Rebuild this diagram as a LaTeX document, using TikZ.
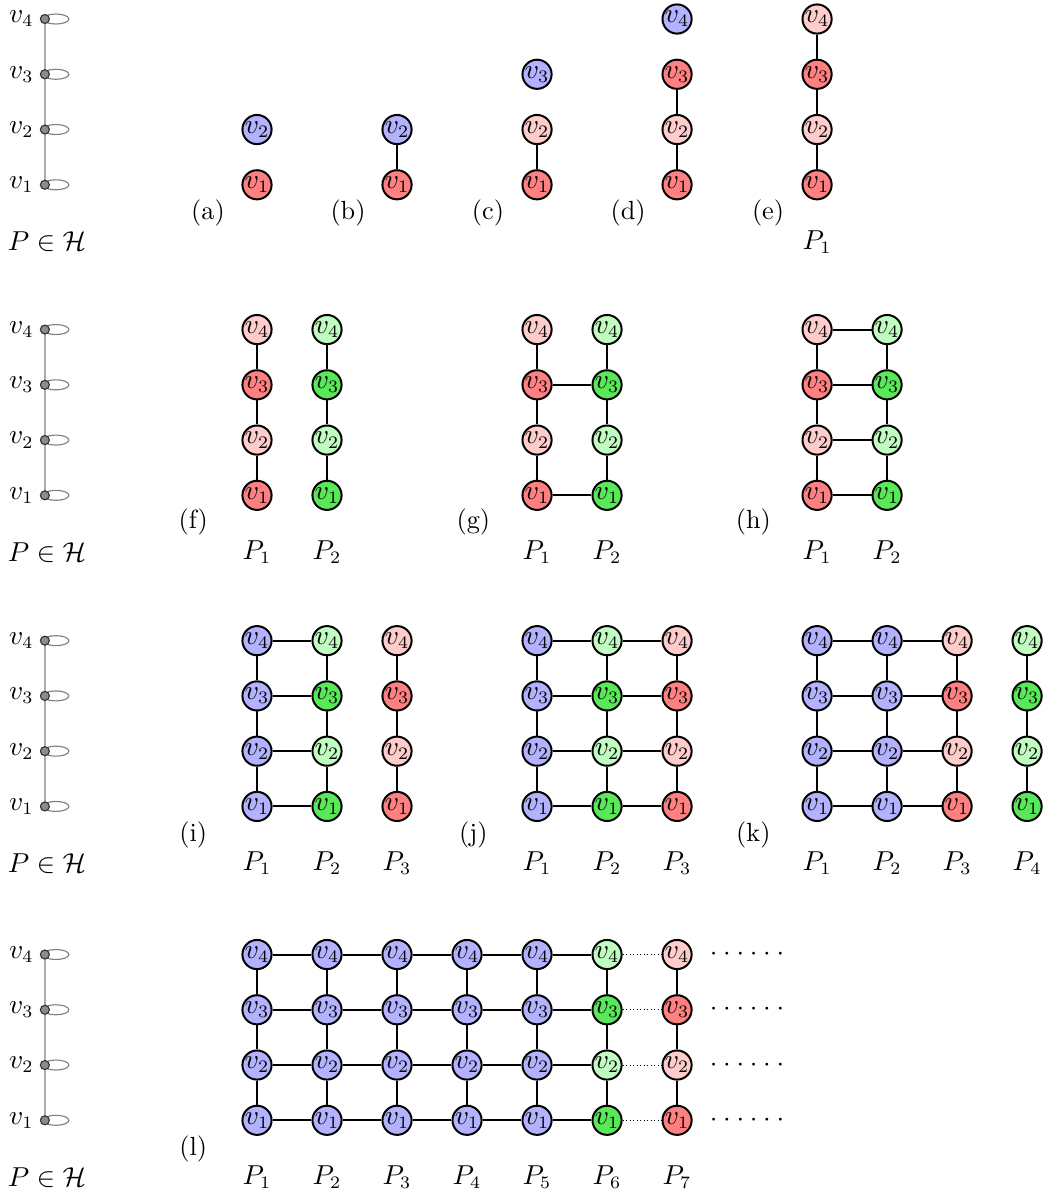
\documentclass[tikz,border=0pt]{standalone}
\usepackage{amsmath}
\usepackage{amssymb}
\definecolor{pgreen}{RGB}{88,232,88}
\definecolor{plgreen}{RGB}{192,252,192}

% the host path P with a loop at every vertex
\newcommand{\hostpath}{%
  \foreach \i in {1,...,4}
    \coordinate (h\i) at (-0.03,\i-1);
  \draw[gray!65, line width=0.6pt] (h1) -- (h2) -- (h3) -- (h4);
  \foreach \i in {1,...,4}
    \draw[gray, line width=0.45pt] ([xshift=4.4pt]h\i) ellipse [x radius=5.2pt, y radius=2pt];
  \foreach \i in {1,...,4}
    \node[pv, label={[label distance=-1.2pt]left:$v_{\i}$}] (pv\i) at (h\i) {};
  \node (ph) at (0,-1.03) {$P \in \mathcal{H}$};}

% one column of vertices: name, x, fill styles from v_1 upwards
\newcommand{\pcol}[3]{%
  \foreach \s [count=\i] in {#3}
    \node[\s] (#1\i) at (#2,\i-1) {$v_{\i}$};}

% a full copy of P (four vertices, three edges)
\newcommand{\pstack}[3]{%
  \pcol{#1}{#2}{#3}
  \draw[link] (#11) -- (#12) -- (#13) -- (#14);}

\newcommand{\sixdots}{${\cdot}\hspace{2.3pt}{\cdot}\hspace{2.3pt}{\cdot}\hspace{2.3pt}{\cdot}\hspace{2.3pt}{\cdot}\hspace{2.3pt}{\cdot}$}

\begin{document}
\fontsize{10.5}{12.5}\selectfont
\begin{tikzpicture}[x=28pt, y=22.1pt,
    vtx/.style={circle, draw, thick, inner sep=0pt, minimum size=10.6pt},
    bl/.style={vtx, fill=blue!30},
    rd/.style={vtx, fill=red!50},
    lr/.style={vtx, fill=red!20},
    gr/.style={vtx, fill=pgreen},
    lg/.style={vtx, fill=plgreen},
    pv/.style={circle, draw=black!80, fill=gray!90, line width=0.45pt, inner sep=0pt, minimum size=3.6pt},
    link/.style={thick}]
    \useasboundingbox (-0.671,3.344) rectangle (14.343,-18.246);

    % Row 1: (a)--(e), building P_1
    \hostpath
    \pcol{a}{3}{rd,bl}
    \pcol{b}{5}{rd,bl}
    \draw[link] (b1) -- (b2);
    \pcol{c}{7}{rd,lr,bl}
    \draw[link] (c1) -- (c2);
    \pcol{d}{9}{rd,lr,rd,bl}
    \draw[link] (d1) -- (d2) -- (d3);
    \pstack{e}{11}{rd,lr,rd,lr}
    \node (tag-a) at (2.3,-0.51) {(a)};
    \node (tag-b) at (4.3,-0.51) {(b)};
    \node (tag-c) at (6.3,-0.51) {(c)};
    \node (tag-d) at (8.3,-0.51) {(d)};
    \node (tag-e) at (10.3,-0.51) {(e)};
    \node (e-P1) at (11,-1.03) {$P_1$};

    % Row 2: (f)--(h), joining P_1 and P_2
    \begin{scope}[shift={(0,-5.62)}]
        \hostpath
        \pstack{fA}{3}{rd,lr,rd,lr}
        \pstack{fB}{4}{gr,lg,gr,lg}
        \pstack{gA}{7}{rd,lr,rd,lr}
        \pstack{gB}{8}{gr,lg,gr,lg}
        \foreach \i in {1,3}
            \draw[link] (gA\i) -- (gB\i);
        \pstack{hA}{11}{rd,lr,rd,lr}
        \pstack{hB}{12}{gr,lg,gr,lg}
        \foreach \i in {1,...,4}
            \draw[link] (hA\i) -- (hB\i);
        \node (tag-f) at (2.09,-0.49) {(f)};
        \node (tag-g) at (6.09,-0.49) {(g)};
        \node (tag-h) at (10.09,-0.49) {(h)};
        \foreach \x in {3,7,11} {
            \node at (\x,-1.03) {$P_1$};
            \node at (\x+1,-1.03) {$P_2$};
        }
    \end{scope}

    % Row 3: (i)--(k), adding P_3 and P_4
    \begin{scope}[shift={(0,-11.25)}]
        \hostpath
        \pstack{iA}{3}{bl,bl,bl,bl}
        \pstack{iB}{4}{gr,lg,gr,lg}
        \pstack{iC}{5}{rd,lr,rd,lr}
        \pstack{jA}{7}{bl,bl,bl,bl}
        \pstack{jB}{8}{gr,lg,gr,lg}
        \pstack{jC}{9}{rd,lr,rd,lr}
        \pstack{kA}{11}{bl,bl,bl,bl}
        \pstack{kB}{12}{bl,bl,bl,bl}
        \pstack{kC}{13}{rd,lr,rd,lr}
        \pstack{kD}{14}{gr,lg,gr,lg}
        \foreach \i in {1,...,4} {
            \draw[link] (iA\i) -- (iB\i);
            \draw[link] (jA\i) -- (jB\i) -- (jC\i);
            \draw[link] (kA\i) -- (kB\i) -- (kC\i);
        }
        \node (tag-i) at (2.09,-0.51) {(i)};
        \node (tag-j) at (6.09,-0.51) {(j)};
        \node (tag-k) at (10.09,-0.51) {(k)};
        \foreach \x in {3,7,11} {
            \node at (\x,-1.03) {$P_1$};
            \node at (\x+1,-1.03) {$P_2$};
            \node at (\x+2,-1.03) {$P_3$};
        }
        \node (k-P4) at (14,-1.03) {$P_4$};
    \end{scope}

    % Row 4: (l), the long grid
    \begin{scope}[shift={(0,-16.93)}]
        \hostpath
        \pstack{lA}{3}{bl,bl,bl,bl}
        \pstack{lB}{4}{bl,bl,bl,bl}
        \pstack{lC}{5}{bl,bl,bl,bl}
        \pstack{lD}{6}{bl,bl,bl,bl}
        \pstack{lE}{7}{bl,bl,bl,bl}
        \pstack{lF}{8}{gr,lg,gr,lg}
        \pstack{lG}{9}{rd,lr,rd,lr}
        \foreach \i in {1,...,4} {
            \draw[link] (lA\i) -- (lB\i) -- (lC\i) -- (lD\i) -- (lE\i) -- (lF\i);
            \draw[densely dotted] (lF\i) -- (lG\i);
            \node (more\i) at (10,\i-1) {\sixdots};
        }
        \node (tag-l) at (2.09,-0.51) {(l)};
        \foreach \k in {1,...,7}
            \node at (\k+2,-1.03) {$P_{\k}$};
    \end{scope}
\end{tikzpicture}
\end{document}
